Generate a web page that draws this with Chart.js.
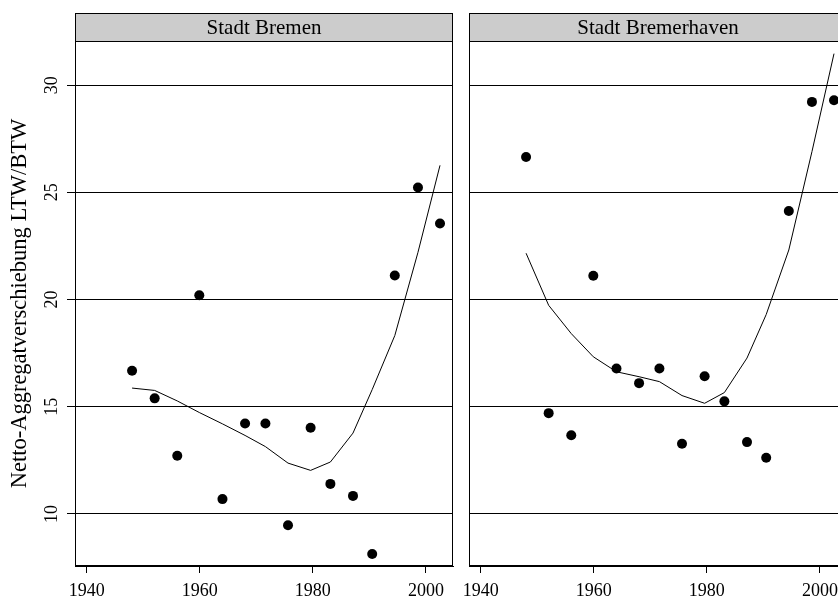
<!DOCTYPE html>
<html><head><meta charset="utf-8">
<script src="https://cdn.jsdelivr.net/npm/chart.js@4/dist/chart.umd.min.js"></script>
<style>
html,body{margin:0;padding:0;background:#fff;overflow:hidden;width:838px;height:597px;position:relative;}
canvas{position:absolute;top:0;}
#c1{left:0}
#c2{left:461px}
</style></head><body>
<canvas id="c1" width="461" height="597"></canvas>
<canvas id="c2" width="400" height="597"></canvas>
<script>
const panelTitles = ["Stadt Bremen", "Stadt Bremerhaven"];
const years = [1948.0, 1952.0, 1956.0, 1959.9, 1964.0, 1968.0, 1971.6, 1975.6, 1979.6, 1983.1, 1987.1, 1990.5, 1994.5, 1998.6, 2002.5];
const bremenValues = [16.68, 15.39, 12.71, 20.2, 10.69, 14.22, 14.22, 9.47, 14.02, 11.40, 10.84, 8.13, 21.12, 25.23, 23.55];
const bremenFit = [15.87, 15.76, 15.27, 14.73, 14.2, 13.66, 13.14, 12.37, 12.03, 12.42, 13.77, 15.8, 18.32, 22.2, 26.26];
const bremerhavenValues = [26.65, 14.70, 13.67, 21.11, 16.78, 16.10, 16.78, 13.27, 16.42, 15.25, 13.35, 12.62, 24.13, 29.22, 29.30];
const bremerhavenFit = [22.16, 19.73, 18.41, 17.33, 16.63, 16.40, 16.17, 15.52, 15.16, 15.66, 17.27, 19.3, 22.31, 26.9, 31.47];
const xTicks = [1940, 1960, 1980, 2000];
const yTicks = [10, 15, 20, 25, 30];
const yTitle = "Netto-Aggregatverschiebung LTW/BTW";
const xMin = 1937.9, xMax = 2004.8;
const yMin = 7.57, yMax = 32.06;

const FONT = 'Liberation Serif';

const stripPlugin = {
  id: 'strip',
  afterDraw(chart, args, opts) {
    const ctx = chart.ctx;
    const {left, right, top, bottom} = chart.chartArea;
    const L = Math.round(left), R = Math.round(right);
    ctx.save();
    ctx.fillStyle = '#cccccc';
    ctx.fillRect(L, 13, R - L, top - 13);
    ctx.strokeStyle = '#000';
    ctx.lineWidth = 1;
    ctx.strokeRect(L + 0.5, 13.5, R - L - 1, Math.round(bottom) - 13 - 1);
    ctx.beginPath();
    ctx.moveTo(L, Math.round(top) + 0.5);
    ctx.lineTo(R, Math.round(top) + 0.5);
    ctx.stroke();
    ctx.fillStyle = '#000';
    ctx.font = '21px "' + FONT + '"';
    ctx.textAlign = 'center';
    ctx.textBaseline = 'alphabetic';
    ctx.fillText(opts.text, (left + right) / 2, 33.5);
    ctx.restore();
  }
};

function makeChart(id, title, values, fit, first, padding) {
  return new Chart(document.getElementById(id), {
    type: 'scatter',
    data: {
      datasets: [
        {
          data: years.map((x, i) => ({x: x, y: fit[i]})),
          showLine: true,
          borderColor: '#000',
          borderWidth: 1,
          pointRadius: 0,
          tension: 0,
          fill: false,
          order: 2
        },
        {
          data: years.map((x, i) => ({x: x, y: values[i]})),
          backgroundColor: '#000',
          borderColor: '#000',
          borderWidth: 0,
          pointRadius: 5,
          pointHoverRadius: 5,
          order: 1
        }
      ]
    },
    options: {
      responsive: false,
      animation: false,
      devicePixelRatio: 1,
      events: [],
      layout: {padding: padding},
      plugins: {
        legend: {display: false},
        tooltip: {enabled: false},
        strip: {text: title}
      },
      scales: {
        x: {
          type: 'linear',
          min: xMin, max: xMax,
          afterBuildTicks: s => { s.ticks = xTicks.map(v => ({value: v})); },
          afterFit: s => { s.height = 31; s.paddingLeft = 0; s.paddingRight = 0; },
          grid: {drawOnChartArea: false, drawTicks: true, tickLength: 7, color: '#000'},
          border: {color: '#000'},
          ticks: {
            autoSkip: false, maxRotation: 0, minRotation: 0, padding: 7, color: '#000',
            font: {family: FONT, size: 18},
            callback: v => String(v)
          }
        },
        y: {
          type: 'linear',
          min: yMin, max: yMax,
          afterBuildTicks: s => { s.ticks = yTicks.map(v => ({value: v})); },
          afterFit: s => { s.width = first ? 75 : 0; s.paddingTop = 0; s.paddingBottom = 0; },
          grid: {color: '#000', drawTicks: first, tickLength: first ? 8 : 0},
          border: {color: '#000'},
          ticks: {
            display: first, minRotation: 90, maxRotation: 90, crossAlign: 'center',
            padding: 6, color: '#000',
            font: {family: FONT, size: 18},
            callback: v => String(v)
          },
          title: {
            display: first, text: yTitle, color: '#000',
            font: {family: FONT, size: 22.5},
            padding: {top: 7, bottom: 0}
          }
        }
      }
    },
    plugins: [stripPlugin]
  });
}

makeChart('c1', panelTitles[0], bremenValues, bremenFit, true, {top: 41, right: 8, left: 0, bottom: 0});
makeChart('c2', panelTitles[1], bremerhavenValues, bremerhavenFit, false, {top: 41, right: 14, left: 8, bottom: 0});
</script>
</body></html>
